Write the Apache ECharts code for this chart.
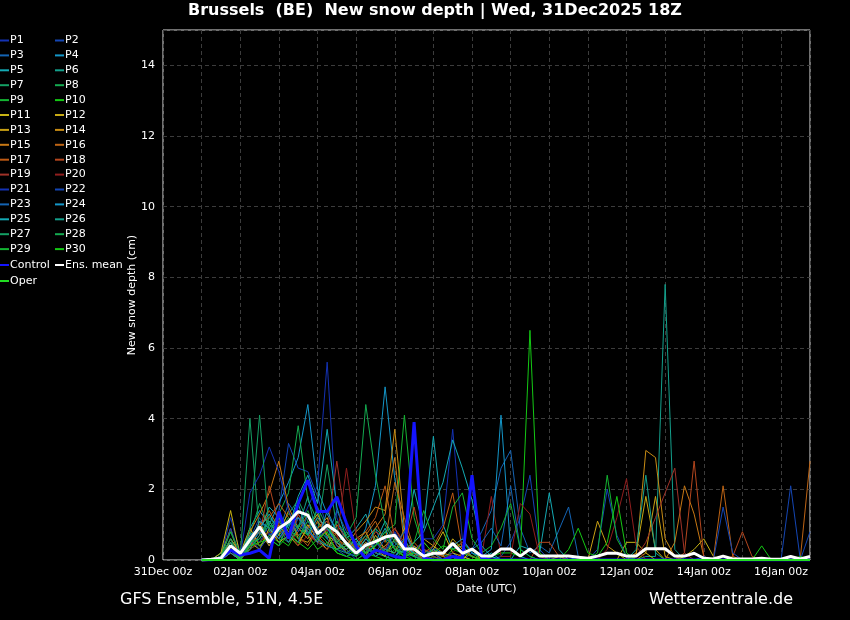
<!DOCTYPE html>
<html>
<head>
<meta charset="utf-8">
<script src="https://cdn.jsdelivr.net/npm/echarts@6.0.0/dist/echarts.min.js"></script>
<style>
  html, body { margin: 0; padding: 0; background: #000; }
  #chart { width: 850px; height: 620px; }
</style>
</head>
<body>
<div id="chart"></div>
<script>
// x axis tick labels, one per day from 31Dec 00z (only every second one is shown)
const tickLabels = ['31Dec 00z', '01Jan 00z', '02Jan 00z', '03Jan 00z', '04Jan 00z', '05Jan 00z',
  '06Jan 00z', '07Jan 00z', '08Jan 00z', '09Jan 00z', '10Jan 00z', '11Jan 00z', '12Jan 00z',
  '13Jan 00z', '14Jan 00z', '15Jan 00z', '16Jan 00z'];

// members P1..P30, 6-hourly from 01Jan 00z to 16Jan 18z (cm)
const P1 = [0,0,0.1,1.2,0.2,0.8,0.5,1.0, 0.6,1.1,0.9,1.5,2.1,5.6,1.2,0.4, 0.2,0.5,0.1,0.3,0.8,0.2,0,0.3, 0.1,0,0.2,0,0,0,0.1,0, 0,0,0,0,0,0,0,0, 0,0,0,0,0,0,0,0, 0,0,0,0,0,0,0,0, 0,0,0,0,0,0,0,0];
const P2 = [0,0,0,0.3,0,0.6,1.2,0.7, 1.4,3.3,2.6,2.5,1.8,0.9,0.5,0.3, 0,0.2,0.6,0.1,0,0,0.4,0.2, 0.3,0,0,0,0.2,0,0,0.1, 0.5,1.2,2.4,0.3,0,0,0,0, 0,0,0,0,0,0,0,0, 0,0,0,0,0,0,0,0, 0,0,0,0,0,0,0,0];
const P3 = [0,0,0.2,0.5,0,0.3,0.9,0.4, 0.8,1.6,1.2,0.7,0.5,0.4,1.1,0.6, 0.3,0.4,0.9,0.2,0.1,0.5,0.2,0, 0.4,0.1,0.2,0,0.3,0.8,1.4,2.6, 3.1,0.9,0.2,0.4,0.2,0.85,1.5,0.1, 0,0,0,0,0,0,0,0, 0,0,0,0,0,0,0,0, 0,0,0,0,0,0,0,0];
const P4 = [0,0,0,0.4,0.1,0.9,1.4,1.0, 1.6,2.2,2.9,4.4,2.0,1.3,0.8,0.5, 0.3,0.9,2.1,4.9,2.3,0.8,0.2,0, 0.1,0,0,0,0,0,0,0, 0,0,0,0,0,0,0,0, 0,0,0,0,0,0,0,0, 0,0,0,0,0,0,0,0, 0,0,0,0,0,0,0,0];
const P5 = [0,0,0.1,0.6,0.2,0.4,0.8,1.5, 1.2,0.9,1.8,2.4,1.6,3.7,1.5,0.6, 0.9,1.3,0.5,1.1,0.6,0.4,2.0,0.9, 3.5,1.0,0.3,0.4,0.1,0,0.2,0, 0,0.4,0.3,0.2,1.9,0.3,0,0.1, 0,0,0,0,0,0,0,0, 0,0,0,0,0,0,0,0, 0,0,0,0,0,0,0,0];
const P6 = [0,0,0,0.3,0,0.5,0.9,0.6, 0.4,1.1,0.7,0.9,1.4,0.6,0.3,0.2, 0.1,0.4,0.2,0.1,0,0.3,0.1,0, 0,0,0,0.1,0,0,0,0, 0,0,0,0,0,0,0,0, 0,0,0,0,0,0,0.1,0.1, 7.8,0.3,0,0,0,0,0,0, 0,0,0,0,0,0,0,0];
const P7 = [0,0,0.2,0.8,0.1,4.0,0.7,1.2, 0.9,1.3,1.7,1.1,0.8,2.7,0.9,0.4, 0.6,0.2,0.4,0.8,0.3,0.1,0.2,0, 0,0,0,0,0,0,0,0, 0,0,0,0,0,0,0,0, 0,0,0,0,0,0,0,0, 0,0,0,0,0,0,0,0, 0,0,0,0,0,0,0,0];
const P8 = [0,0,0,0.5,0,0.7,1.6,0.9, 1.3,1.9,3.8,1.7,1.1,0.7,0.5,0.8, 0.4,0.2,0.9,0.6,0.1,0.3,0.2,0, 0.2,0,0,0,0,0,0,0, 0,0,0,0,0,0,0,0, 0,0,0,0,0,0,0,0, 0,0,0,0,0,0,0,0, 0,0,0,0,0,0,0,0];
const P9 = [0,0,0.1,0.3,0,0.4,0.6,1.1, 0.7,1.0,1.4,1.2,0.9,0.6,1.1,0.7, 0.3,0.6,0.4,0.8,1.0,4.1,1.2,0.3, 0.1,0,0,0,0,0,0,0, 0,0,0,0,0,0,0,0, 0,0,0,0,0,0,0,0, 0,0,0,0,0,0,0,0, 0,0,0,0,0,0,0,0];
const P10 = [0,0,0,0.2,0,0.3,0.5,0.8, 0.6,0.4,0.9,0.7,0.3,0.5,0.2,0.1, 0,0.2,0.1,0,0.3,0.1,0,0, 0,0,0.3,0.5,0.2,0,0.1,0.2, 0.2,0.1,6.5,0.2,0,0,0,0, 0,0,0,0,0,0,0,0, 0,0,0,0,0,0,0,0, 0,0,0,0,0,0,0,0];
const P11 = [0,0,0.2,1.4,0.1,0.5,0.3,0.9, 0.5,0.7,0.4,1.0,0.6,0.3,0.8,0.4, 0.2,0.5,0.3,0.1,0.6,0.2,0.4,0.1, 0.3,0.8,0.2,0.1,0,0,0,0, 0,0,0,0,0,0,0,0, 0,0,0,0,0.5,0.5,0.2,0, 0,0,0.1,0.3,0.6,0.1,0,0, 0,0,0,0,0,0,0,0];
const P12 = [0,0,0,0.6,0.2,0.9,0.4,0.6, 1.2,0.8,0.5,0.9,1.3,0.7,0.5,0.2, 0.4,0.1,0.7,0.3,0.2,0.9,0.3,0.5, 0.2,0.1,0.6,0.3,0.1,0,0,0, 0,0,0,0,0,0,0,0, 0,0,0,0,0,0.2,1.8,0.3, 0,0,0,0,0,0,0,0, 0,0,0,0,0,0,0,0];
const P13 = [0,0,0.1,0.9,0,0.4,1.1,0.5, 0.7,1.4,0.6,0.5,0.9,1.2,0.4,0.3, 0.6,0.8,0.2,0.4,0.7,0.3,0.1,0.6, 0.4,0.2,0.1,0,0.3,0,0,0, 0,0,0,0,0,0.1,0,0, 0,1.1,0.4,0.2,0,0,0.2,1.8, 0.1,0,0,0,0,0,0,0, 0,0,0,0,0,0,0,0];
const P14 = [0,0,0,0.3,0,0.6,0.8,0.4, 1.0,0.6,1.2,0.8,0.5,0.9,0.6,0.4, 0.8,1.1,1.5,1.4,3.7,0.9,0.2,0.1, 0.3,0.1,0,0,0,0,0,0, 0,0,0,0,0,0,0,0, 0,0,0,0,0,0.1,3.1,2.9, 0.6,0.1,0,0,0,0,0,0, 0,0,0,0,0,0,0,0];
const P15 = [0,0,0,0.4,0.1,0.8,1.3,1.9, 2.8,1.5,0.9,0.6,1.1,0.7,0.3,0.5, 0.2,0.6,0.9,1.3,2.9,0.4,0.1,0, 0,0,0,0,0,0,0,0, 0,0,0,0,0,0,0,0, 0,0,0,0,0,0,0,0, 0,0.5,2.1,1.3,0.1,0,0,0, 0,0,0,0,0,0,0,0];
const P16 = [0,0,0.1,0.2,0,0.5,0.9,1.4, 0.9,0.5,0.8,1.3,0.7,0.4,1.0,0.6, 0.3,0.7,1.1,0.5,2.2,1.2,0.3,0, 0.2,0,0,0,0,0,0,0, 0,0,0,0,0,0,0,0, 0,0,0,0,0,0,0,0, 0,0,0,0,0,0.05,2.1,0.1, 0,0,0,0,0,0,0.05,2.8];
const P17 = [0,0,0,0.5,0.2,0.3,1.0,1.2, 1.6,1.2,0.7,0.4,0.9,1.1,0.5,0.3, 0.5,0.8,1.2,2.1,0.6,0.3,0.5,0.2, 0.4,0.9,1.9,0.3,0.1,0,0,0, 0,0,0,0,0,0,0,0, 0,0,0,0,0,0,0,0, 0,0,0,0,0,0,0,0, 0,0,0,0,0,0,0,0];
const P18 = [0,0,0,0.2,0,0.4,0.7,2.1, 1.0,0.6,1.3,0.8,0.5,0.9,0.7,0.2, 0.4,0.3,0.8,0.6,0.9,0.4,1.5,0.3, 0.2,0.1,0,0.2,0.1,0,0,0, 0,0,0,0.5,0.5,0.1,0,0, 0,0,0,0,0,0,0,0, 0,0,0.2,2.8,0.1,0,0,0.1, 0.8,0.1,0,0,0,0,0,0];
const P19 = [0,0,0,0.3,0.1,0.6,0.9,0.5, 1.1,0.7,1.3,0.9,1.2,0.8,2.8,0.9, 0.4,0.2,0.6,0.3,0.9,0.5,0.2,0, 0.1,0,0,0,0,0,0,0, 0,0,0,0,0,0,0,0, 0,0,0,0,0,0.1,0.5,1.2, 1.9,2.6,0.2,0,0,0,0,0, 0,0,0,0,0,0,0,0];
const P20 = [0,0,0,0.2,0,0.3,0.5,0.8, 0.6,0.9,0.4,0.7,0.5,0.3,0.6,2.6, 0.7,0.3,0.5,0.2,0.4,0.1,0.3,0.1, 0,0,0.2,0.5,0.3,0.1,1.8,0.1, 0.1,1.6,1.3,0.1,0,0,0,0, 0,0,0.3,1.2,2.3,0.4,0,0, 0,0,0,0,0,0,0,0, 0,0,0,0,0,0,0,0];
const P21 = [0,0,0,0.9,0.1,1.9,2.4,3.2, 2.5,1.4,0.8,1.1,0.6,0.9,0.4,0.2, 0.3,0.1,0.5,0.2,0.8,0.4,0.2,0.6, 0.6,1.0,3.7,0.6,0.2,0.1,0,0, 0,0,0,0,0,0,0,0, 0,0,0,0,0,0,0,0, 0,0,0,0,0,0,0,0, 0,0,0,0,0,0,0,0];
const P22 = [0,0,0,0.4,0,0.6,0.3,0.7, 0.9,0.5,1.2,0.8,0.6,0.4,0.3,0.1, 0.2,0.4,0.1,0.3,0.5,0.2,0.1,0, 0,0,0,0,0,0,0,0, 0,0,0,0,0,0,0,0, 0,0.3,2.0,0.7,0.1,0,0,0, 0,0,0,0,0.1,0,1.5,0.2, 0,0,0,0,0,2.1,0,0.8];
const P23 = [0,0,0.1,0.3,0,0.5,0.8,0.6, 1.1,0.7,0.5,1.3,0.9,0.6,1.4,0.8, 0.5,0.3,0.2,0.6,0.4,0.8,0.3,0.1, 0.2,0,0,0.1,0.3,0.5,0.9,0.4, 2.1,0.3,0.1,0,0,0,0,0, 0,0,0,0,0,0,0,0, 0,0,0,0,0,0,0,0, 0,0,0,0,0,0,0,0];
const P24 = [0,0,0,0.2,0,0.4,1.1,0.9, 0.6,1.0,1.2,0.9,0.5,1.4,0.8,0.4, 0.2,0.6,0.3,0.2,0.1,0.4,0.2,0.1, 0.3,0.2,0.4,0.6,0.2,0.1,0.3,4.1, 0.3,0.1,0,0,0,0,0,0, 0,0,0,0,0,0,0,0, 0,0,0,0,0,0,0,0, 0,0,0,0,0,0,0,0];
const P25 = [0,0,0.1,0.4,0.2,0.7,0.9,1.3, 0.8,1.0,1.6,0.7,1.2,0.9,0.5,0.3, 0.6,0.2,0.4,0.9,0.3,0.2,0.5,0.8, 1.5,2.2,3.4,2.6,1.7,0.4,0.1,0, 0,0,0,0,0,0,0,0, 0,0,0,0,0,0,0,0, 0,0,0,0,0,0,0,0, 0,0,0,0,0,0,0,0];
const P26 = [0,0,0,0.5,0.1,0.3,0.7,1.1, 0.7,0.5,0.9,1.8,0.6,0.4,0.3,0.5, 0.2,0.4,0.1,0.3,0.2,0.6,0.1,0, 0,0,0,0,0,0,0,0, 0,0,0,0,0,0,0,0, 0,0,0,0,0,0.3,2.4,0.2, 0,0,0,0,0,0,0,0, 0,0,0,0,0,0,0,0];
const P27 = [0,0,0.1,0.6,0,0.9,4.1,0.8, 1.2,0.6,1.0,0.7,1.5,0.9,0.6,0.2, 0.4,0.7,0.3,0.2,0.6,0.3,0.1,0.2, 0,0,0,0,0,0,0,0, 0,0,0,0,0,0,0,0, 0,0,0,0,0,0,0,0, 0,0,0,0,0,0,0,0, 0,0,0,0,0,0,0,0];
const P28 = [0,0,0,0.3,0,0.5,0.6,1.0, 0.8,1.2,0.9,1.4,0.7,1.0,0.5,0.7, 1.2,4.4,2.4,1.0,0.5,0.2,0.1,0, 0,0,0,0,0,0,0,0, 0,0,0,0,0,0,0,0, 0,0,0,0,0,0,0,0, 0,0,0,0,0,0,0,0, 0,0,0,0,0,0,0,0];
const P29 = [0,0,0.1,0.8,0.2,0.6,0.4,0.7, 0.5,0.9,0.6,1.1,0.8,0.5,0.3,0.4, 0.1,0.3,0.6,0.2,0.4,0.1,0.5,1.4, 0.6,0.3,1.5,1.9,0.6,0.2,0.4,0.9, 1.6,0.3,0.1,0,0,0,0,0, 0,0.2,2.4,0.6,0.1,0,0,0, 0,0,0,0,0,0,0,0, 0,0,0,0,0,0,0,0];
const P30 = [0,0,0,0.3,0,0.4,0.5,0.6, 0.4,0.7,0.5,0.3,0.6,0.8,0.2,0.1, 0.3,0.2,0.4,0.7,0.3,0.1,0.2,0.5, 0.2,0.4,0.3,0.2,0.1,0,0,0, 0,0,0,0,0,0,0.3,0.9, 0.2,0.1,0.5,1.8,0.2,0,0,0, 0,0,0,0,0,0,0,0, 0,0,0.4,0,0,0,0.1,0];

const control = [0,0,0.05,0.28,0.14,0.19,0.28,0.05, 1.37,0.61,1.6,2.26,1.37,1.37,1.79,1.04, 0.38,0.05,0.28,0.2,0.1,0.05,3.9,0.05, 0,0,0.1,0.05,2.4,0.05,0,0, 0,0,0,0,0,0,0,0, 0,0,0,0,0,0,0,0, 0,0,0,0,0,0,0,0, 0,0,0,0,0,0,0,0];
const ensMean = [0,0.02,0.05,0.4,0.19,0.57,0.94,0.5, 0.9,1.08,1.37,1.27,0.75,0.99,0.8,0.47, 0.19,0.42,0.52,0.65,0.7,0.31,0.31,0.11, 0.19,0.19,0.47,0.19,0.31,0.11,0.11,0.31, 0.31,0.11,0.31,0.11,0.11,0.11,0.11,0.08, 0.05,0.11,0.19,0.19,0.11,0.11,0.32,0.32, 0.32,0.11,0.11,0.19,0.05,0.03,0.11,0.03, 0.03,0.03,0.05,0.02,0.02,0.1,0.03,0.1];
const oper = [0,0,0,0,0,0,0,0, 0,0,0,0,0,0,0,0, 0,0,0,0,0,0,0,0, 0,0,0,0,0,0,0,0, 0,0,0,0,0,0,0,0, 0,0,0,0,0,0,0,0, 0,0,0,0,0,0,0,0, 0,0,0,0,0,0,0,0];

const members = [P1,P2,P3,P4,P5,P6,P7,P8,P9,P10,P11,P12,P13,P14,P15,P16,P17,P18,P19,P20,
  P21,P22,P23,P24,P25,P26,P27,P28,P29,P30];

// P1..P20 colours, P21..P30 reuse the first ten
const memberColors = ['#1432b4','#1446b4','#1464b4','#1496c8','#14aab4','#14a08c','#14a064','#14aa50',
  '#14b432','#14c814','#c8b414','#c8aa14','#c8a014','#c88c14','#c87814','#be6414','#be5a14',
  '#b4461e','#a03228','#901e1e'];
const controlColor = '#1414ff';
const meanColor = '#ffffff';
const operColor = '#22dd22';

const font = 'DejaVu Sans';
const firstHour = 24;   // 01Jan 00z, hours after 31Dec 00z
const stepHours = 6;

function toPoints(vals) {
  return vals.map((v, i) => [firstHour + stepHours * i, v]);
}

let myChart = echarts.init(document.getElementById('chart'));

let series = members.map((vals, k) => ({
  name: 'P' + (k + 1),
  type: 'line',
  data: toPoints(vals),
  symbol: 'none',
  color: memberColors[k % 20],
  lineStyle: { width: 1 },
  emphasis: { disabled: true }
}));
series.push({ name: 'Control', type: 'line', data: toPoints(control), symbol: 'none',
  color: controlColor, lineStyle: { width: 3 }, emphasis: { disabled: true } });
series.push({ name: 'Ens. mean', type: 'line', data: toPoints(ensMean), symbol: 'none',
  color: meanColor, lineStyle: { width: 3 }, emphasis: { disabled: true } });
series.push({ name: 'Oper', type: 'line', data: toPoints(oper), symbol: 'none',
  color: operColor, lineStyle: { width: 2 }, emphasis: { disabled: true } });

// legend drawn as two columns: short coloured dash, name right after it
let legendItems = [];
for (let k = 0; k < 30; k++) {
  legendItems.push({ name: 'P' + (k + 1), color: memberColors[k % 20],
    x: k % 2 ? 55 : 0, y: 40.5 + Math.floor(k / 2) * 14.9 });
}
legendItems.push({ name: 'Control', color: controlColor, x: 0, y: 265 });
legendItems.push({ name: 'Ens. mean', color: meanColor, x: 55, y: 265 });
legendItems.push({ name: 'Oper', color: operColor, x: 0, y: 281 });

let legendGraphics = [];
legendItems.forEach(it => {
  legendGraphics.push({ type: 'rect', shape: { x: it.x, y: it.y - 1, width: 9, height: 2 },
    style: { fill: it.color }, silent: true });
  legendGraphics.push({ type: 'text', x: it.x + 10, y: it.y,
    style: { text: it.name, fill: '#fff', font: '11px "DejaVu Sans"', verticalAlign: 'middle' },
    silent: true });
});

const option = {
  backgroundColor: '#000',
  animation: false,
  textStyle: { fontFamily: font },
  grid: { left: 163, right: 40, top: 30, bottom: 60, show: true, borderColor: '#e0e0e0', borderWidth: 1 },
  xAxis: {
    type: 'value',
    min: 0,
    max: 402,
    interval: 24,
    name: 'Date (UTC)',
    nameLocation: 'middle',
    nameGap: 24,
    nameMoveOverlap: false,
    nameTextStyle: { color: '#fff', fontSize: 11, fontFamily: font },
    axisLine: { show: false },
    axisTick: { show: false },
    axisLabel: {
      color: '#fff', fontSize: 11, fontFamily: font, margin: 7,
      formatter: v => {
        const d = v / 24;
        return (Number.isInteger(d) && d % 2 === 0) ? tickLabels[d] : '';
      }
    },
    splitLine: { show: true, lineStyle: { color: '#3c3c3c', type: [4, 3], width: 1 } }
  },
  yAxis: {
    type: 'value',
    min: 0,
    max: 15,
    interval: 2,
    name: 'New snow depth (cm)',
    nameLocation: 'middle',
    nameGap: 25,
    nameMoveOverlap: false,
    nameTextStyle: { color: '#fff', fontSize: 11, fontFamily: font },
    axisLine: { show: false },
    axisTick: { show: false },
    axisLabel: {
      color: '#fff', fontSize: 11, fontFamily: font, margin: 8,
      formatter: v => (v % 2 === 0 ? String(v) : '')
    },
    splitLine: { show: true, lineStyle: { color: '#3c3c3c', type: [4, 3], width: 1 } }
  },
  graphic: [
    { type: 'text', left: 188, top: 3,
      style: { text: 'Brussels  (BE)  New snow depth | Wed, 31Dec2025 18Z', fill: '#fff',
        font: 'bold 16px "DejaVu Sans"' } },
    { type: 'text', left: 120, top: 592,
      style: { text: 'GFS Ensemble, 51N, 4.5E', fill: '#fff', font: '16px "DejaVu Sans"' } },
    { type: 'text', right: 57, top: 592,
      style: { text: 'Wetterzentrale.de', fill: '#fff', font: '16px "DejaVu Sans"' } }
  ].concat(legendGraphics),
  series: series
};

myChart.setOption(option);
</script>
</body>
</html>
